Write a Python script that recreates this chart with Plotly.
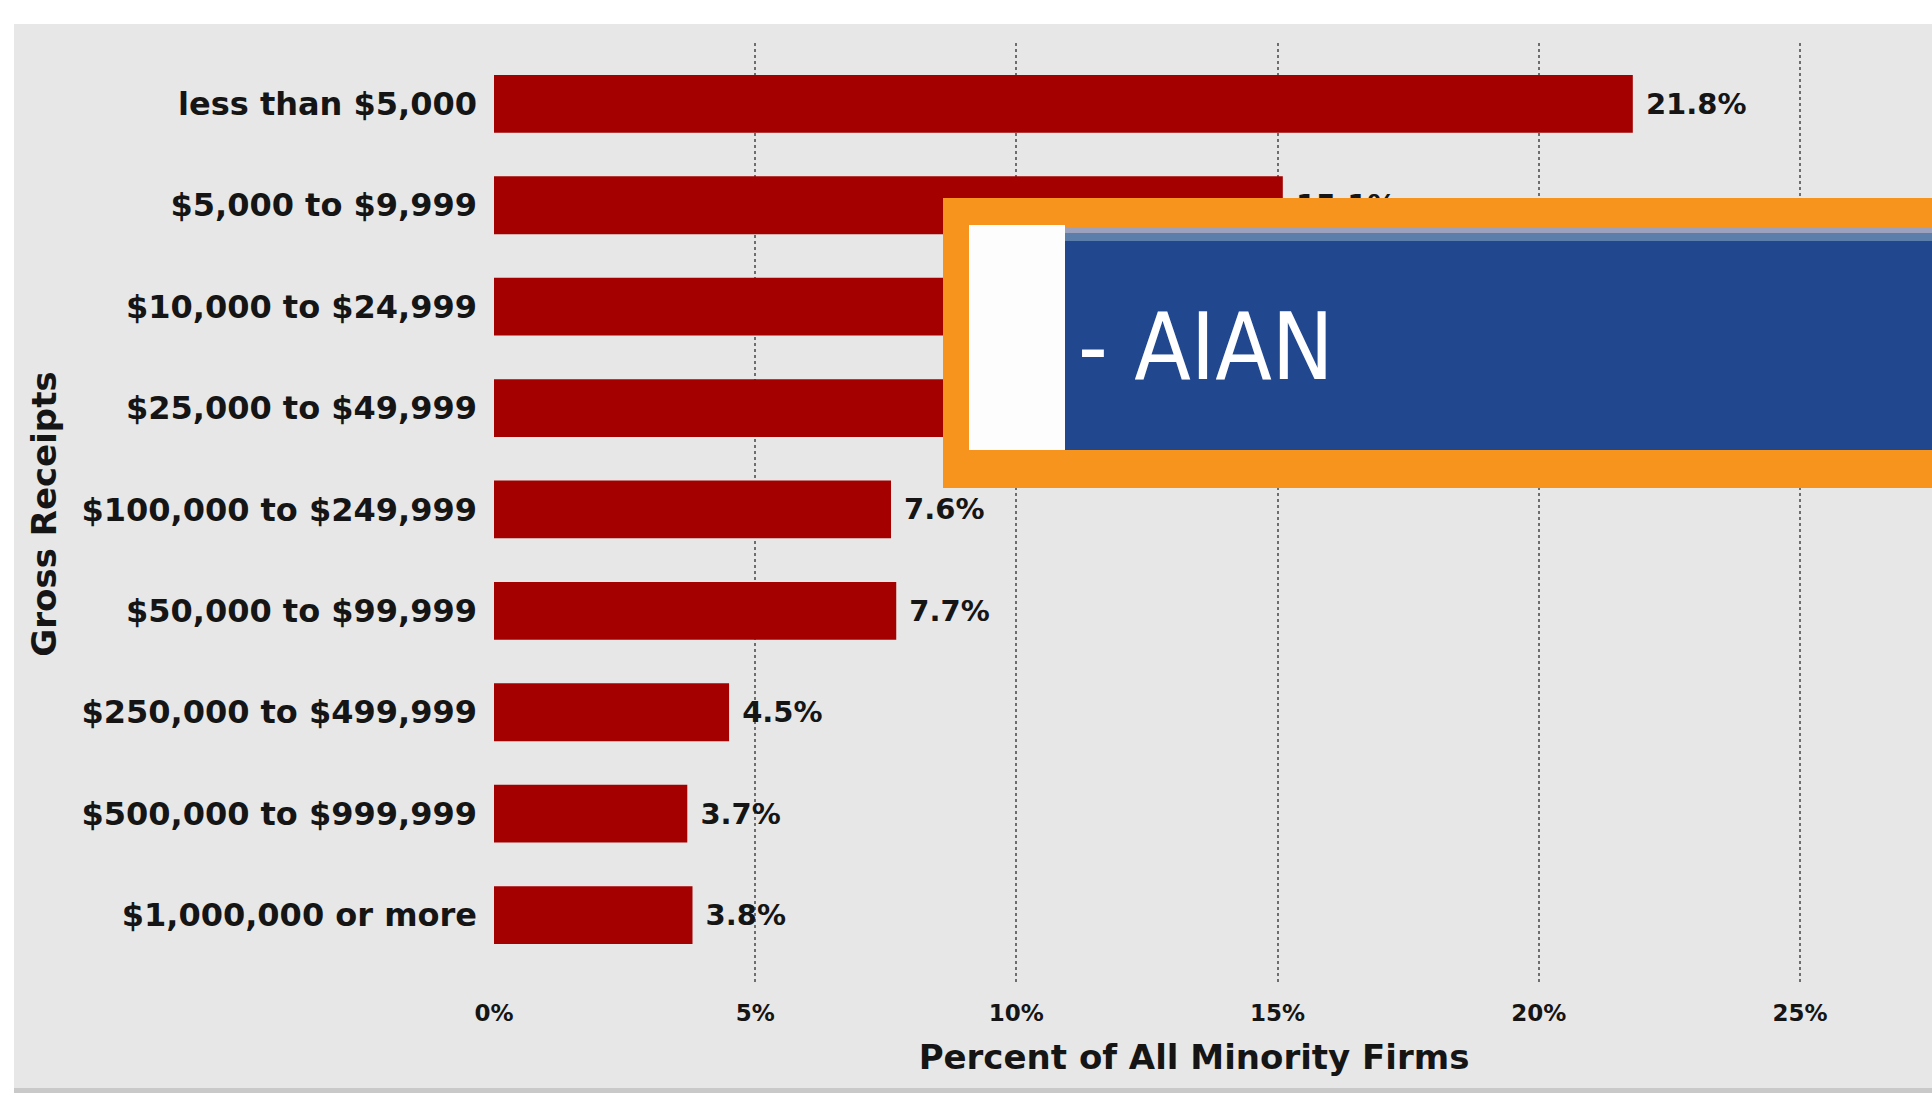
import plotly.graph_objects as go

# ---- data ----
categories = [
    "less than $5,000",
    "$5,000 to $9,999",
    "$10,000 to $24,999",
    "$25,000 to $49,999",
    "$100,000 to $249,999",
    "$50,000 to $99,999",
    "$250,000 to $499,999",
    "$500,000 to $999,999",
    "$1,000,000 or more",
]
values = [21.8, 15.1, 18.9, 16.9, 7.6, 7.7, 4.5, 3.7, 3.8]
# value labels of bars 3 and 4 are hidden by the overlay banner in the reference
label_shown = [True, True, False, False, True, True, True, True, True]
x_ticks = [0, 5, 10, 15, 20, 25]
x_tick_labels = ["0%", "5%", "10%", "15%", "20%", "25%"]
overlay_label = "- AIAN"

value_text = [("\u00a0%.1f%%" % v) if s else "" for v, s in zip(values, label_shown)]

# ---- layout geometry (pixels) ----
W_PX, H_PX = 1932, 1093
L, R, T, B = 494, 1894, 43, 985


def px_x(p):
    return (p - L) / (R - L)


def px_y(p):
    return (B - p) / (B - T)


FONT = "DejaVu Sans"

fig = go.Figure()
fig.add_trace(go.Bar(
    y=categories,
    x=values,
    orientation="h",
    marker=dict(color="#a40000", line=dict(width=0)),
    text=value_text,
    texttemplate="%{text}",
    textposition="outside",
    constraintext="none",
    cliponaxis=False,
    textfont=dict(family=FONT, size=29, color="#151515", weight="bold"),
    hoverinfo="skip",
))

shapes = []
# chart panel background
shapes.append(dict(type="rect", xref="paper", yref="paper", layer="below",
                   x0=px_x(14), x1=px_x(W_PX + 5), y0=px_y(1088), y1=px_y(24),
                   fillcolor="#e7e7e7", line=dict(width=0)))
shapes.append(dict(type="rect", xref="paper", yref="paper", layer="below",
                   x0=px_x(14), x1=px_x(W_PX + 5), y0=px_y(H_PX + 5), y1=px_y(1088),
                   fillcolor="#c9c9c9", line=dict(width=0)))
# overlay banner
shapes.append(dict(type="rect", xref="paper", yref="paper", layer="above",
                   x0=px_x(943), x1=px_x(W_PX + 5), y0=px_y(488), y1=px_y(198),
                   fillcolor="#f7941d", line=dict(width=0)))
shapes.append(dict(type="rect", xref="paper", yref="paper", layer="above",
                   x0=px_x(969), x1=px_x(1065), y0=px_y(450), y1=px_y(225),
                   fillcolor="#fdfdfd", line=dict(width=0)))
shapes.append(dict(type="rect", xref="paper", yref="paper", layer="above",
                   x0=px_x(1065), x1=px_x(W_PX + 5), y0=px_y(450), y1=px_y(227),
                   fillcolor="#21488f", line=dict(width=0)))
shapes.append(dict(type="rect", xref="paper", yref="paper", layer="above",
                   x0=px_x(1065), x1=px_x(W_PX + 5), y0=px_y(233), y1=px_y(227),
                   fillcolor="#9ca2bd", line=dict(width=0)))
shapes.append(dict(type="rect", xref="paper", yref="paper", layer="above",
                   x0=px_x(1065), x1=px_x(W_PX + 5), y0=px_y(241), y1=px_y(233),
                   fillcolor="#5b7eab", line=dict(width=0)))

annotations = [
    dict(text=overlay_label, xref="paper", yref="paper",
         x=px_x(1076), y=px_y(347), xanchor="left", yanchor="middle",
         showarrow=False,
         font=dict(family="DejaVu Sans Condensed, Roboto Condensed, Liberation Sans Narrow, Liberation Sans",
                   size=92, color="#ffffff")),
]

fig.update_layout(
    width=W_PX, height=H_PX,
    margin=dict(l=L, r=W_PX - R, t=T, b=H_PX - B),
    paper_bgcolor="#ffffff",
    plot_bgcolor="rgba(0,0,0,0)",
    showlegend=False,
    bargap=0.43,
    shapes=shapes,
    annotations=annotations,
    xaxis=dict(
        range=[0, 26.8],
        tickmode="array", tickvals=x_ticks, ticktext=x_tick_labels,
        showgrid=True, gridcolor="#6e6e6e", gridwidth=2, griddash="dot",
        zeroline=False, showline=False, ticks="",
        ticklabelstandoff=12,
        tickfont=dict(family=FONT, size=23, color="#151515", weight="bold"),
        title=dict(text="Percent of All Minority Firms", standoff=20,
                   font=dict(family=FONT, size=34, color="#151515", weight="bold")),
    ),
    yaxis=dict(
        type="category",
        categoryorder="array", categoryarray=categories,
        range=[8.69, -0.6],
        showgrid=False, zeroline=False, showline=False, ticks="",
        ticklabelstandoff=16,
        tickfont=dict(family=FONT, size=32, color="#151515", weight="bold"),
        title=dict(text="Gross Receipts", standoff=14,
                   font=dict(family=FONT, size=34, color="#151515", weight="bold")),
    ),
)

fig.write_html("out.html")
